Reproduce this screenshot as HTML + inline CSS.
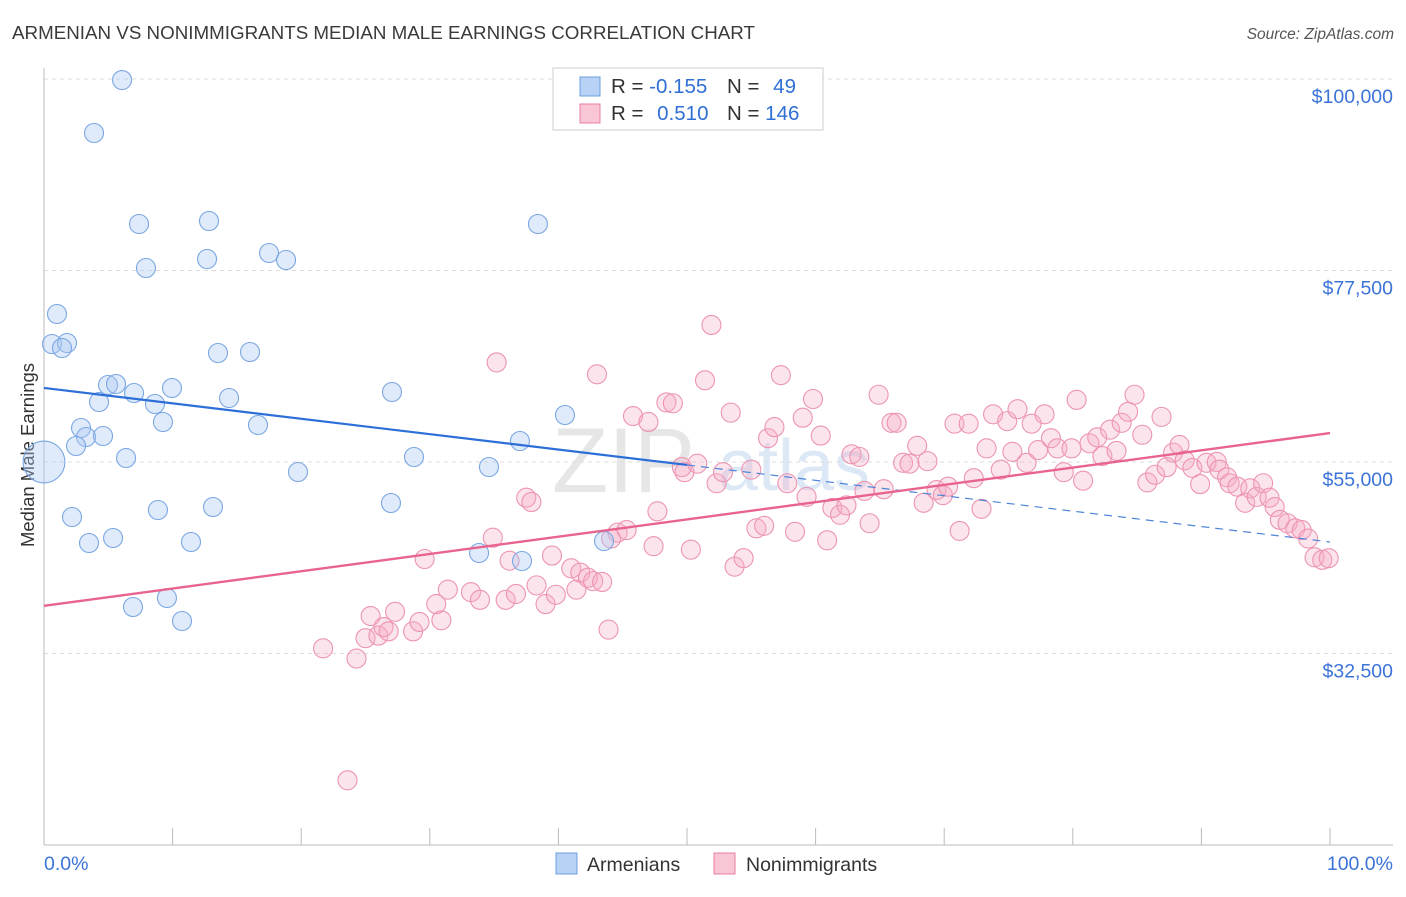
<!DOCTYPE html>
<html><head><meta charset="utf-8">
<style>
body{margin:0;background:#fff;font-family:"Liberation Sans",sans-serif;}
svg text{font-family:"Liberation Sans",sans-serif;}
</style></head>
<body>
<svg id="chart" width="1406" height="892" viewBox="0 0 1406 892" xmlns="http://www.w3.org/2000/svg">
<text x="12" y="39" font-size="18" fill="#3a3a3a" textLength="743" lengthAdjust="spacingAndGlyphs">ARMENIAN VS NONIMMIGRANTS MEDIAN MALE EARNINGS CORRELATION CHART</text>
<text x="1394" y="39" font-size="15.5" fill="#555" font-style="italic" text-anchor="end">Source: ZipAtlas.com</text>
<text x="34" y="455" font-size="18.5" fill="#333" text-anchor="middle" transform="rotate(-90 34 455)">Median Male Earnings</text>
<text x="552" y="492" font-size="92" fill="#e6e6e6" font-family="Liberation Serif">ZIP</text>
<text x="718" y="490" font-size="72" fill="#dce8f6">atlas</text>
<g id="grid"></g>
<g id="axes"></g>
<g id="marks"></g>
<g>
<rect x="553" y="68" width="270" height="62" fill="#fff" stroke="#ccc"/>
<rect x="580" y="77" width="20" height="19" fill="#b7d2f5" stroke="#6c9ee0"/>
<rect x="580" y="104" width="20" height="19" fill="#f9c6d6" stroke="#e87fa0"/>
<text x="611" y="93" font-size="20.5" fill="#333">R = <tspan fill="#2f6fd6">-0.155</tspan></text>
<text x="727" y="93" font-size="20.5" fill="#333">N = <tspan fill="#2f6fd6" dx="8">49</tspan></text>
<text x="611" y="120" font-size="20.5" fill="#333">R = <tspan fill="#2f6fd6" dx="8">0.510</tspan></text>
<text x="727" y="120" font-size="20.5" fill="#333">N = <tspan fill="#2f6fd6">146</tspan></text>
</g>
<g>
<rect x="556" y="853" width="21" height="21" fill="#b7d2f5" stroke="#6c9ee0"/>
<text x="587" y="871" font-size="19.5" fill="#333">Armenians</text>
<rect x="714" y="853" width="21" height="21" fill="#f9c6d6" stroke="#e87fa0"/>
<text x="746" y="871" font-size="19.5" fill="#333">Nonimmigrants</text>
</g>
<text x="44" y="870" font-size="19.5" fill="#3b73d9">0.0%</text>
<text x="1393" y="870" font-size="19.5" fill="#3b73d9" text-anchor="end">100.0%</text>
</svg>
<script>
const yTicks=[100000,77500,55000,32500];
const yTickLabels=["$100,000","$77,500","$55,000","$32,500"];
const xTicks=[0,10,20,30,40,50,60,70,80,90,100];
const armX=[6.07,3.89,7.39,12.83,7.93,12.68,17.5,18.82,1.01,0.62,1.79,1.4,13.53,16.02,4.98,5.6,7.0,9.95,4.28,8.63,14.39,27.06,9.25,16.64,40.51,2.88,3.27,4.59,2.49,37.01,6.38,28.77,0,19.75,34.6,26.98,2.18,8.86,13.14,3.5,5.37,11.43,33.83,37.17,43.55,6.92,9.56,10.73,38.41];
const armY=[99880,93655,82962,83315,77792,78850,79555,78732,72387,68862,68980,68392,67805,67922,64045,64162,63105,63692,62047,61812,62517,63222,59697,59345,60520,58992,57935,58052,56877,57465,55467,55585,54997,53822,54410,50180,48535,49357,49710,45480,46067,45597,44305,43365,45715,37960,39017,36315,82962];
const armSize=[1,1,1,1,1,1,1,1,1,1,1,1,1,1,1,1,1,1,1,1,1,1,1,1,1,1,1,1,1,1,1,1,2.2,1,1,1,1,1,1,1,1,1,1,1,1,1,1,1,1];
const nonX=[23.6,21.7,24.3,25.0,26.0,25.4,26.4,26.8,27.3,28.7,29.2,30.9,29.6,30.5,31.4,33.2,33.9,34.9,35.2,35.9,36.7,36.2,37.5,37.9,38.3,39.0,39.5,39.8,41.0,41.4,41.7,42.3,42.7,43.4,43.9,43.0,44.1,44.6,45.3,45.8,47.0,47.4,47.7,48.4,48.9,50.3,
49.6,49.8,50.8,51.9,51.4,52.3,52.8,53.4,53.7,54.4,55.0,55.4,56.0,56.3,56.8,57.3,57.8,58.4,59.0,59.3,59.8,60.4,60.9,61.3,61.9,62.4,62.8,63.4,63.8,64.2,64.9,65.3,65.9,66.3,66.8,67.3,67.9,68.4,68.7,69.4,69.9,70.3,70.8,71.2,71.9,72.3,72.9,73.3,73.8,
74.4,74.9,75.3,75.7,76.4,76.8,77.3,77.8,78.3,78.8,79.3,79.9,80.3,80.8,81.3,81.9,82.3,82.9,83.4,83.8,84.3,84.8,85.4,85.8,86.4,86.9,87.3,87.8,88.3,88.7,89.3,89.9,90.4,91.2,91.4,92.0,92.2,92.8,93.4,93.8,94.3,94.8,95.3,95.7,96.1,96.7,97.3,97.8,98.3,98.8,99.4,99.9];
const nonY=[17600,33100,31900,34300,34600,36900,35600,35100,37400,35100,36200,36400,43600,38300,40000,39700,38800,46100,66700,38800,39500,43400,50800,50300,40500,38300,44000,39400,42500,40000,42000,41400,41000,40900,35300,65300,46000,46700,47000,60400,59700,45100,49200,62000,61900,44700,
54400,53800,54800,71100,64600,52500,53800,60800,42700,43700,54100,47200,47500,57800,59100,65200,52500,46800,60200,50900,62400,58100,45800,49600,48800,49900,55900,55600,51600,47800,62900,51800,59600,59600,54900,54800,56900,50200,55100,51700,51100,52100,59500,46900,59500,53100,49500,56600,60600,
54100,59800,56200,61200,54900,59500,56400,60600,57800,56600,53800,56600,62300,52800,57200,57900,55700,58800,56300,59600,60900,62900,58200,52600,53500,60300,54400,56100,57000,55200,54300,52400,54900,55000,54100,53200,52500,52100,50200,51900,50900,52500,50800,49700,48200,47800,47200,47000,46000,43800,43500,43700];
const armTrend=[63700,45600];
const nonTrend=[38100,58400];

const NS="http://www.w3.org/2000/svg";
const X0=44,X1=1330,Y0=79;
const xs=p=>X0+(X1-X0)*p/100;
const ys=v=>Y0+(100000-v)/117.5;
function mk(tag,attrs,parent){const e=document.createElementNS(NS,tag);for(const k in attrs)e.setAttribute(k,attrs[k]);parent.appendChild(e);return e;}
const grid=document.getElementById('grid'),axes=document.getElementById('axes'),marks=document.getElementById('marks');
yTicks.forEach((v,i)=>{
  const l=mk('line',{x1:44,x2:1393,y1:ys(v),y2:ys(v),stroke:'#dcdcdc','stroke-dasharray':'4,4'},grid);
  
  
  const t=mk('text',{x:1393,y:ys(v)+24,'font-size':19.5,fill:'#3b73d9','text-anchor':'end'},grid);
  t.textContent=yTickLabels[i];
  
  
});
const ax=mk('line',{x1:44,x2:1393,y1:845,y2:845,stroke:'#bbb'},axes);


const ay=mk('line',{x1:44,x2:44,y1:68,y2:845,stroke:'#bbb'},axes);


xTicks.forEach(p=>{
  const t=mk('line',{x1:xs(p),x2:xs(p),y1:828,y2:845,stroke:'#bbb'},axes);
  
  
});
nonX.forEach((p,i)=>{
  const c=mk('circle',{cx:xs(p),cy:ys(nonY[i]),r:9.5,fill:'rgba(245,170,196,0.32)',stroke:'#ec94b1','stroke-width':1.1},marks);
  
  
});
armX.forEach((p,i)=>{
  const c=mk('circle',{cx:xs(p),cy:ys(armY[i]),r:9.5*armSize[i],fill:'rgba(170,200,242,0.38)',stroke:'#7aa7e3','stroke-width':1.1},marks);
  
  
});
const am=(armTrend[0]+armTrend[1])/2;
const t1=mk('line',{x1:xs(0),y1:ys(armTrend[0]),x2:xs(50),y2:ys(am),stroke:'#2d6fd8','stroke-width':2.2},marks);


const t2=mk('line',{x1:xs(50),y1:ys(am),x2:xs(100),y2:ys(armTrend[1]),stroke:'#4d84d8','stroke-width':1.2,'stroke-dasharray':'8,6'},marks);


const t3=mk('line',{x1:xs(0),y1:ys(nonTrend[0]),x2:xs(100),y2:ys(nonTrend[1]),stroke:'#e8638e','stroke-width':2.4},marks);


</script>
</body></html>
